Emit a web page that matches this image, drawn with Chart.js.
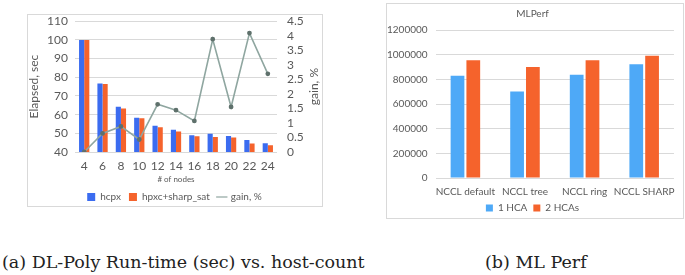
<!DOCTYPE html>
<html><head><meta charset="utf-8">
<script src="https://cdn.jsdelivr.net/npm/chart.js@4/dist/chart.umd.min.js"></script>
<style>
html,body{margin:0;padding:0;background:#fff;width:685px;height:275px;overflow:hidden;position:relative;font-family:Lato,sans-serif}
.frame{position:absolute;border:1px solid #d9d9d9;box-sizing:border-box}
#f1{left:27px;top:14px;width:296px;height:193px}
#f2{left:386px;top:3px;width:298px;height:216px}
.cap{position:absolute;font-family:"DejaVu Serif",serif;font-size:17.5px;color:#222;white-space:nowrap;top:252px}
#cap1{left:2px}
#cap2{left:485px}
</style></head><body>
<div class="frame" id="f1"></div><div class="frame" id="f2"></div>
<div style="position:absolute;left:27px;top:4px;width:295px;height:202px"><canvas id="c1" width="295" height="202"></canvas></div>
<div style="position:absolute;left:386px;top:3px;width:297px;height:215px"><canvas id="c2" width="297" height="215"></canvas></div>
<div class="cap" id="cap1">(a) DL-Poly Run-time (sec) vs. host-count</div>
<div class="cap" id="cap2">(b) ML Perf</div>
<script>
// ---- Data: chart (a) ----
const nodes = ['4','6','8','10','12','14','16','18','20','22','24'];
const hcpx = [100, 76.7, 64.2, 58.3, 54.0, 51.9, 48.9, 49.8, 48.6, 46.4, 44.7];
const hpxcSharp = [100, 76.4, 63.3, 58.1, 53.3, 51.0, 48.4, 48.0, 47.8, 44.6, 43.6];
const gain = [0.0, 0.64, 0.88, 0.43, 1.64, 1.44, 1.07, 3.88, 1.55, 4.09, 2.69];
// ---- Data: chart (b) ----
const ncclModes = ['NCCL default','NCCL tree','NCCL ring','NCCL SHARP'];
const oneHCA = [829000, 702000, 837000, 922000];
const twoHCAs = [954000, 901000, 954000, 991000];

const txt = '#595959';
const grid = '#d9d9d9';
Chart.defaults.font.family = 'Lato';
Chart.defaults.color = txt;
Chart.defaults.animation = false;
Chart.defaults.devicePixelRatio = 1;

// right-axis title drawn reading bottom-to-top, like the reference
const rightTitle = {
  id:'rightTitle',
  afterDraw(chart){
    const s = chart.scales.y1; const ctx = chart.ctx;
    ctx.save();
    ctx.translate(s.right - 8, (s.top + s.bottom)/2);
    ctx.rotate(-Math.PI/2);
    ctx.font = '12px Lato'; ctx.fillStyle = txt; ctx.textAlign='center'; ctx.textBaseline='middle';
    ctx.fillText('gain, %', 0, 0);
    ctx.restore();
  }
};

new Chart(document.getElementById('c1'), {
  data: {
    labels: nodes,
    datasets: [
      {type:'line', label:'gain, %', data:gain, yAxisID:'y1', borderColor:'#8fa6a0', borderWidth:1.6,
       pointRadius:1.6, pointBackgroundColor:'#5f716c', pointBorderColor:'#5f716c', pointStyle:'circle', order:0, tension:0},
      {type:'bar', label:'hcpx', data:hcpx, yAxisID:'y', backgroundColor:'#3b6cf0', categoryPercentage:0.56, barPercentage:1.0, order:1},
      {type:'bar', label:'hpxc+sharp_sat', data:hpxcSharp, yAxisID:'y', backgroundColor:'#f5632c', categoryPercentage:0.56, barPercentage:1.0, order:1}
    ]
  },
  options: {
    responsive:false,
    layout:{padding:{top:2,left:0,right:0,bottom:-6}},
    plugins:{
      legend:{position:'bottom',
        labels:{font:{size:10}, color:txt, boxWidth:8, boxHeight:8, padding:8, usePointStyle:true,
          generateLabels(chart){
            const items = Chart.defaults.plugins.legend.labels.generateLabels(chart);
            items.forEach(it=>{ if(it.text==='gain, %'){it.pointStyle='line'; it.lineWidth=1.2; it.strokeStyle='#8fa6a0';} else {it.pointStyle='rect'; it.lineWidth=0;} });
            const order={'hcpx':0,'hpxc+sharp_sat':1,'gain, %':2};
            return items.sort((a,b)=>order[a.text]-order[b.text]);
          }}},
      tooltip:{enabled:false}
    },
    scales:{
      x:{grid:{display:false, drawTicks:false}, border:{display:false}, ticks:{font:{size:12}, color:txt, padding:7, maxRotation:0, minRotation:0, autoSkip:false},
         title:{display:true, text:'# of nodes', font:{size:8}, color:txt, padding:{top:0,bottom:0}},
         afterFit(s){s.height -= 6;}},
      y:{position:'left', min:40, max:110, ticks:{stepSize:10, autoSkip:false, font:{size:12}, color:txt, padding:7},
         grid:{color:grid, drawTicks:false}, border:{display:false},
         title:{display:true, text:'Elapsed, sec', font:{size:12}, color:txt, padding:{top:0,bottom:2}},
         afterFit(s){s.width=48;}},
      y1:{position:'right', min:0, max:4.5, ticks:{stepSize:0.5, autoSkip:false, font:{size:12}, color:txt, padding:10, callback:v=>String(v)},
         grid:{display:false, drawTicks:false}, border:{display:false},
         afterFit(s){s.width=45;}}
    }
  },
  plugins:[rightTitle]
});

new Chart(document.getElementById('c2'), {
  type:'bar',
  data:{
    labels:ncclModes,
    datasets:[
      {label:'1 HCA', data:oneHCA, backgroundColor:'#4ea9f7', categoryPercentage:0.53, barPercentage:0.87},
      {label:'2 HCAs', data:twoHCAs, backgroundColor:'#f5632c', categoryPercentage:0.53, barPercentage:0.87}
    ]
  },
  options:{
    responsive:false,
    layout:{padding:{top:2,left:0,right:4,bottom:-5}},
    plugins:{
      title:{display:true, text:'MLPerf', font:{size:10, weight:'normal'}, color:txt, padding:{top:3,bottom:10}},
      legend:{position:'bottom', labels:{font:{size:10}, color:txt, boxWidth:7, boxHeight:7, padding:6}},
      tooltip:{enabled:false}
    },
    scales:{
      x:{grid:{display:false, drawTicks:false}, border:{display:false}, ticks:{font:{size:10}, color:txt, padding:8, maxRotation:0, minRotation:0, autoSkip:false},
         afterFit(s){s.height -= 9;}},
      y:{min:0, max:1200000, ticks:{stepSize:200000, autoSkip:false, font:{size:10}, color:txt, padding:8, callback:v=>String(v)},
         grid:{color:grid, drawTicks:false}, border:{display:false},
         afterFit(s){s.width=49.6;}}
    }
  }
});
</script>
</body></html>
